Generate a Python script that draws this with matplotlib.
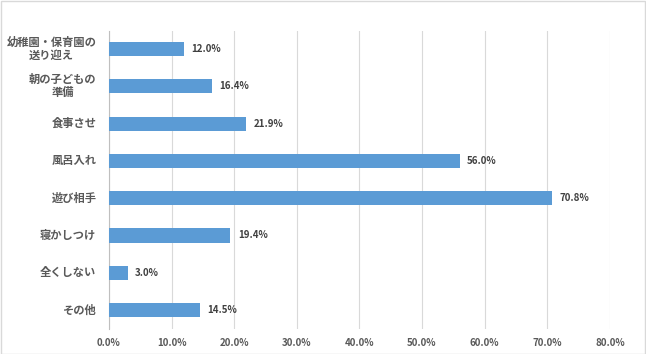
import matplotlib
matplotlib.use("Agg")
import matplotlib.pyplot as plt
from matplotlib.patches import Rectangle
from matplotlib.offsetbox import TextArea, VPacker, AnnotationBbox

plt.rcParams['font.family'] = ['Noto Sans CJK JP', 'DejaVu Sans']

categories = ["幼稚園・保育園の\n送り迎え", "朝の子どもの\n準備", "食事させ", "風呂入れ", "遊び相手", "寝かしつけ", "全くしない", "その他"]
values = [12.0, 16.4, 21.9, 56.0, 70.8, 19.4, 3.0, 14.5]
xticks = [0, 10, 20, 30, 40, 50, 60, 70, 80]

fig = plt.figure(figsize=(6.46, 3.54), dpi=100)
ax = fig.add_axes([0.1687, 0.0718, 0.7753, 0.842])
fig.patches.append(Rectangle((0.001, 0.001), 0.997, 0.997, transform=fig.transFigure,
                             fill=False, edgecolor='#D9D9D9', linewidth=1))

y = list(range(len(categories)))
ax.barh(y, values, height=0.38, color='#5B9BD5', zorder=3)
for yi, v in zip(y, values):
    ax.text(v + 1.2, yi, f"{v:.1f}%", va='center', ha='left', fontsize=7,
            fontweight='bold', color='#404040')

ax.set_ylim(len(categories) - 0.5, -0.5)
ax.set_xlim(0, 80)
ax.set_yticks(y)
ax.set_yticklabels([])

label_props = dict(fontsize=8.1, color='#595959', fontweight='bold', family='Noto Sans CJK JP')
for yi, c in zip(y, categories):
    areas = [TextArea(ln, textprops=label_props) for ln in c.split("\n")]
    box = VPacker(children=areas, align='center', pad=0, sep=0)
    ab = AnnotationBbox(box, (0, yi), xycoords=ax.get_yaxis_transform(),
                        xybox=(-9, 0), boxcoords='offset points',
                        box_alignment=(1, 0.5), frameon=False, pad=0,
                        annotation_clip=False)
    ax.add_artist(ab)

ax.set_xticks(xticks)
ax.set_xticklabels([f"{t:.1f}%" for t in xticks], fontsize=7, color='#595959', fontweight='bold')
ax.tick_params(axis='both', length=0)
ax.tick_params(axis='x', pad=7)
ax.grid(axis='x', color='#D9D9D9', linewidth=0.8, zorder=0)
for s in ['top', 'right', 'bottom']:
    ax.spines[s].set_visible(False)
ax.spines['left'].set_color('#BFBFBF')
ax.spines['left'].set_linewidth(0.8)

fig.savefig("out.png", dpi=100)
